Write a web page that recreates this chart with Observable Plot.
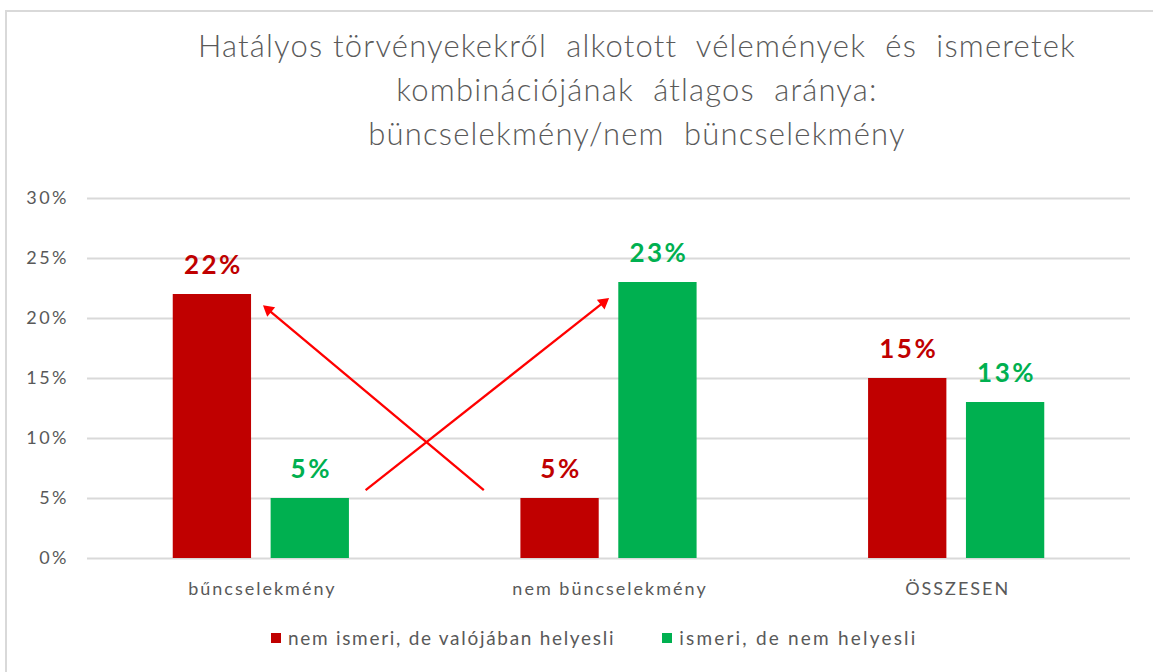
<!DOCTYPE html>
<html><head><meta charset="utf-8">
<script src="https://cdn.jsdelivr.net/npm/d3@7"></script>
<script src="https://cdn.jsdelivr.net/npm/@observablehq/plot@0.6"></script>
<style>
body{margin:0;background:#fff;font-family:Lato,"Open Sans",sans-serif;width:1153px;height:672px;overflow:hidden;position:relative}
#frame{position:absolute;left:5px;top:10px;width:1300px;height:800px;border:2px solid #d9d9d9;box-sizing:border-box}
#title{position:absolute;left:0;width:1274px;top:23px;text-align:center;color:#595959;font-size:31px;line-height:44px;font-weight:300;letter-spacing:1.2px;white-space:pre}
#chart{position:absolute;left:0;top:180px}
#legend{position:absolute;left:271px;top:626px;display:flex;gap:47px;color:#595959;font-size:19px;letter-spacing:1.7px;white-space:nowrap}
#legend span.item{display:flex;align-items:center;gap:7px}
#legend span.item:last-child{letter-spacing:2.2px}
#legend i{display:inline-block;width:10px;height:10px}
</style></head>
<body>
<div id="frame"></div>
<div id="title"></div>
<div id="chart"></div>
<div id="legend"></div>
<script>
const titleLines = ["Hatályos törvényekekről  alkotott  vélemények  és  ismeretek", "kombinációjának  átlagos  aránya:", "büncselekmény/nem  büncselekmény"];
const groups = ["bűncselekmény", "nem büncselekmény", "ÖSSZESEN"];
const seriesNames = ["nem ismeri, de valójában helyesli", "ismeri, de nem helyesli"];
const seriesColors = ["#C00000", "#00B050"];
const redValues = [22, 5, 15];
const greenValues = [5, 23, 13];
const yTicks = [0, 5, 10, 15, 20, 25, 30];
// annotation arrows: from a point near one group to a point near another (value in %)
const arrows = [
  {from: "nem büncselekmény", fromOffset: -0.36, fromValue: 5.7, to: "bűncselekmény", toOffset: 0.005, toValue: 21.1},
  {from: "bűncselekmény", fromOffset: 0.30, fromValue: 5.7, to: "nem büncselekmény", toOffset: 0.0, toValue: 21.7}
];

document.getElementById("title").innerHTML = titleLines.map(t => `<div>${t}</div>`).join("");
document.getElementById("legend").innerHTML = seriesNames.map((s, i) =>
  `<span class="item"><i style="background:${seriesColors[i]}"></i>${s}</span>`).join("");

const W = 1153, H = 492, ML = 87, MR = 23, MT = 18, MB = 114;
const pxPerX = (W - ML - MR) / 3, pxPerY = (H - MT - MB) / 30;
const gi = g => groups.indexOf(g);
const barW = 1 / (2 + 0.25 + 2.19);
const gap = 0.25 * barW;
const data = [];
groups.forEach((g, i) => {
  data.push({group: g, s: 0, value: redValues[i]});
  data.push({group: g, s: 1, value: greenValues[i]});
});
const x1 = d => gi(d.group) + (d.s === 0 ? -gap / 2 - barW : gap / 2);
const x2 = d => gi(d.group) + (d.s === 0 ? -gap / 2 : gap / 2 + barW);
const xc = d => (x1(d) + x2(d)) / 2;

// arrow geometry (head drawn as a filled rotated triangle)
const arrowGeom = arrows.map(a => {
  const ax1 = gi(a.from) + a.fromOffset, ay1 = a.fromValue;
  const ax2 = gi(a.to) + a.toOffset, ay2 = a.toValue;
  const dxp = (ax2 - ax1) * pxPerX, dyp = -(ay2 - ay1) * pxPerY;
  const len = Math.hypot(dxp, dyp);
  const back = 7; // centroid of head, pixels back from tip
  const hx = ax2 - (dxp / len) * back / pxPerX;
  const hy = ay2 + (dyp / len) * back / pxPerY;
  const angle = Math.atan2(dxp, -dyp) * 180 / Math.PI;
  return {ax1, ay1, hx, hy, angle};
});

const chart = Plot.plot({
  width: W, height: H,
  marginLeft: ML, marginRight: MR, marginTop: MT, marginBottom: MB,
  style: {fontFamily: "Lato, 'Open Sans', sans-serif", fontSize: "17px", background: "transparent"},
  x: {type: "linear", domain: [-0.5, 2.5], axis: null},
  y: {domain: [0, 30], axis: null},
  marks: [
    Plot.ruleY(yTicks, {stroke: "#d9d9d9", strokeWidth: 2}),
    Plot.text(yTicks, {y: d => d, frameAnchor: "left", dx: -18.5, textAnchor: "end", text: d => d + "%", fill: "#595959", fontSize: 18}),
    Plot.rectY(data, {x1, x2, y1: 0, y2: "value", fill: d => seriesColors[d.s]}),
    Plot.text(data, {x: xc, y: "value", text: d => d.value + "%", fill: d => seriesColors[d.s], fontWeight: "bold", fontSize: 26, lineAnchor: "bottom", dy: -21, dx: 1}),
    Plot.text(groups, {x: (d, i) => i, y: 0, text: d => d, fill: "#595959", fontSize: 18, dy: 31, dx: 1}),
    Plot.link(arrowGeom, {x1: "ax1", y1: "ay1", x2: "hx", y2: "hy", stroke: "#ff0000", strokeWidth: 2.3}),
    Plot.dot(arrowGeom, {x: "hx", y: "hy", symbol: "triangle", r: 4.6, fill: "#ff0000", stroke: "none", rotate: "angle"})
  ]
});
// widen text to match the reference's letter spacing (order: y ticks, values, categories)
const spacing = ["2.5px", "2.5px", "2px"];
d3.select(chart).selectAll('g[aria-label="text"]').each(function(_, i) {
  d3.select(this).style("letter-spacing", spacing[i]);
});
document.getElementById("chart").appendChild(chart);
</script>
</body></html>
